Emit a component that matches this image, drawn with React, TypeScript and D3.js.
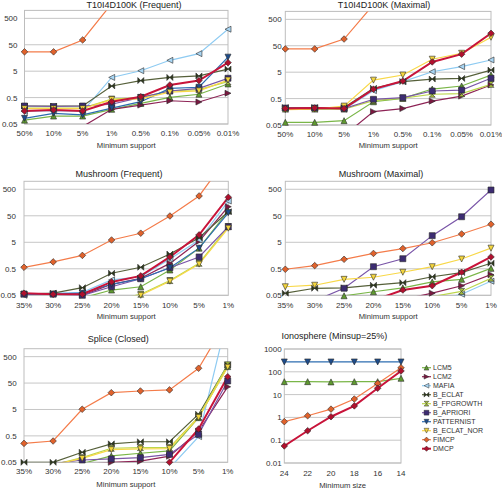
import React from "react";
import * as d3 from "d3";

// x categories
const supportT10 = ["50%", "10%", "5%", "1%", "0.5%", "0.1%", "0.05%", "0.01%"];
const supportPct = ["35%", "30%", "25%", "20%", "15%", "10%", "5%", "1%"];
const minSizes = ["24", "22", "20", "18", "16", "14"];

const runtimeTicks = [0.05, 0.5, 5, 50, 500];
const ionoTicks = [0.01, 0.1, 1, 10, 100, 1000];

type Series = Record<string, (number | null)[]>;

// running times (s), one row per algorithm
const t10Frequent: Series = {
  LCM5: [0.07, 0.1, 0.1, 0.18, 0.3, 0.51, 0.67, 1.64],
  LCM2: [null, null, 0.04, 0.18, 0.26, 0.38, 0.34, 0.73],
  MAFIA: [0.15, 0.16, 0.15, 2.9, 5.2, 12.9, 23, 194],
  B_ECLAT: [0.24, 0.24, 0.24, 1.38, 2.2, 2.9, 3.3, 6.0],
  B_FPGROWTH: [0.2, 0.2, 0.2, 0.44, 0.5, 0.9, 1.0, 2.0],
  B_APRIORI: [0.24, 0.23, 0.24, 0.28, 0.51, 0.89, 1.12, 2.7],
  PATTERNIST: [0.082, 0.127, 0.11, 0.2, 0.35, 1.12, 1.23, 17],
  B_ECLAT_NOR: [0.19, 0.19, 0.19, 0.42, 0.45, 0.8, 0.9, 2.3],
  FIMCP: [27, 27, 76, 1800, null, null, null, null],
  DMCP: [0.155, 0.17, 0.155, 0.35, 0.54, 1.5, 2.2, 10.5],
};

const t10Maximal: Series = {
  LCM5: [0.063, 0.063, 0.073, 0.38, 0.51, 1.15, 1.5, 3.9],
  LCM2: [null, null, 0.02, 0.16, 0.21, 0.4, 0.62, 1.64],
  MAFIA: [0.2, 0.2, 0.2, 1.0, 2.2, 5.2, 8.1, 14.5],
  B_ECLAT: [0.23, 0.23, 0.23, 1.23, 2.2, 2.75, 2.9, 6],
  B_FPGROWTH: [0.2, 0.2, 0.2, 0.42, 0.52, 0.73, 0.77, 1.73],
  B_APRIORI: [0.22, 0.22, 0.21, 0.47, 0.54, 0.97, 1.05, 2.95],
  B_ECLAT_NOR: [0.19, 0.2, 0.26, 2.5, 3.9, 15.5, 26, 105],
  FIMCP: [38, 38, 90, 1800, null, null, null, null],
  DMCP: [0.21, 0.22, 0.21, 1.14, 2.3, 12.2, 24, 148],
};

const mushroomFrequent: Series = {
  LCM5: [null, null, 0.04, 0.079, 0.105, 0.45, 3.0, 76],
  LCM2: [0.045, 0.045, 0.05, 0.13, 0.22, 0.8, 5.5, 110],
  MAFIA: [0.05, 0.06, 0.065, 0.19, 0.25, 1.17, 6.1, 180],
  B_ECLAT: [0.055, 0.06, 0.097, 0.34, 0.57, 1.8, 7.4, 71],
  B_FPGROWTH: [null, null, null, 0.03, 0.055, 0.18, 0.81, 19.5],
  B_APRIORI: [0.055, 0.055, 0.05, 0.105, 0.21, 0.55, 1.4, 19.5],
  PATTERNIST: [0.055, 0.055, 0.06, 0.13, 0.21, 0.55, 3.0, 65],
  B_ECLAT_NOR: [null, null, null, 0.028, 0.05, 0.17, 0.75, 17],
  FIMCP: [0.57, 0.91, 1.6, 6.1, 11, 49, 280, 9000],
  DMCP: [0.06, 0.055, 0.055, 0.16, 0.27, 1.4, 9.5, 250],
};

const mushroomMaximal: Series = {
  LCM5: [null, 0.03, 0.048, 0.068, 0.096, 0.16, 0.2, 0.52],
  LCM2: [null, null, null, null, 0.035, 0.06, 0.115, 0.3],
  MAFIA: [null, null, null, null, null, 0.03, 0.055, 0.17],
  B_ECLAT: [0.06, 0.092, 0.096, 0.12, 0.15, 0.25, 0.36, 0.81],
  B_FPGROWTH: [null, null, null, null, null, 0.045, 0.07, 0.22],
  B_APRIORI: [null, 0.031, 0.092, 0.6, 1.2, 8.9, 46, 470],
  B_ECLAT_NOR: [0.105, 0.12, 0.2, 0.24, 0.37, 0.6, 1.17, 3.0],
  FIMCP: [0.48, 0.66, 1.14, 1.9, 2.9, 4.8, 10.3, 24],
  DMCP: [null, null, null, 0.032, 0.079, 0.115, 0.37, 1.4],
};

const spliceClosed: Series = {
  LCM5: [null, null, 0.045, 0.087, 0.11, 0.135, 2.45, 210],
  LCM2: [null, null, 0.04, 0.05, 0.055, 0.085, 0.75, 36],
  MAFIA: [null, null, null, null, null, 0.03, 0.47, 17000],
  B_ECLAT: [0.05, 0.05, 0.12, 0.25, 0.3, 0.3, 3.3, 245],
  B_FPGROWTH: [0.04, 0.04, 0.075, 0.17, 0.18, 0.18, 2.7, 245],
  B_APRIORI: [0.04, 0.045, 0.061, 0.067, 0.075, 0.1, 0.57, 60],
  B_ECLAT_NOR: [0.04, 0.04, 0.07, 0.15, 0.16, 0.165, 2.5, 200],
  FIMCP: [0.26, 0.32, 5.1, 21.6, 25, 27.5, 182, 12800],
  DMCP: [null, null, null, null, 0.02, 0.05, 0.91, 87],
};

const ionosphere: Series = {
  LCM5: [37, 37, 36, 37, 37, 52],
  PATTERNIST: [270, 270, 270, 270, 270, 270],
  FIMCP: [0.65, 1.18, 2.3, 6.4, 31, 150],
  DMCP: [0.056, 0.26, 1.07, 3.2, 19, 109],
};

const algorithms = [
  "LCM5", "LCM2", "MAFIA", "B_ECLAT", "B_FPGROWTH",
  "B_APRIORI", "PATTERNIST", "B_ECLAT_NOR", "FIMCP", "DMCP",
];

const style: Record<string, { line: string; fill: string; shape: string; width: number }> = {
  LCM5: { line: "#7ab648", fill: "#5f9a30", shape: "triUp", width: 1.2 },
  LCM2: { line: "#8e2456", fill: "#7a1840", shape: "triRight", width: 1.2 },
  MAFIA: { line: "#8ecbf2", fill: "#a9d6f4", shape: "triLeft", width: 1.2 },
  B_ECLAT: { line: "#56603a", fill: "#2e3a1c", shape: "bowtie", width: 1.2 },
  B_FPGROWTH: { line: "#bcd64c", fill: "#a8c23a", shape: "hourglass", width: 1.2 },
  B_APRIORI: { line: "#7a56a8", fill: "#3c2c72", shape: "square", width: 1.2 },
  PATTERNIST: { line: "#2c6cb0", fill: "#1d4c8c", shape: "triDown", width: 1.2 },
  B_ECLAT_NOR: { line: "#f8d848", fill: "#f4d63e", shape: "triDown", width: 1.2 },
  FIMCP: { line: "#f47c4a", fill: "#e0622c", shape: "diamond", width: 1.2 },
  DMCP: { line: "#c8143a", fill: "#b0102e", shape: "diamond", width: 2 },
};

const markerPath = (shape: string, r: number) => {
  switch (shape) {
    case "triUp": return `M0,${-r}L${r},${r}L${-r},${r}Z`;
    case "triDown": return `M0,${r}L${r},${-r}L${-r},${-r}Z`;
    case "triRight": return `M${r},0L${-r},${-r}L${-r},${r}Z`;
    case "triLeft": return `M${-r},0L${r},${-r}L${r},${r}Z`;
    case "bowtie": return `M${-r},${-r}L0,0L${-r},${r}ZM${r},${-r}L0,0L${r},${r}Z`;
    case "hourglass": return `M${-r},${-r}L${r},${-r}L0,0ZM${-r},${r}L${r},${r}L0,0Z`;
    case "square": return `M${-r},${-r}H${r}V${r}H${-r}Z`;
    default: return `M0,${-r * 1.1}L${r * 1.1},0L0,${r * 1.1}L${-r * 1.1},0Z`;
  }
};

type PanelProps = {
  id: string;
  title: string;
  xTitle: string;
  cats: string[];
  data: Series;
  left: number;
  right: number;
  range: [number, number];
  domain: [number, number];
  ticks: number[];
  titleX: number;
  titleY: number;
  tickY: number;
  xTitleY: number;
  labelGap: number;
};

const font = "'Liberation Sans', Arial, sans-serif";

const Panel = (p: PanelProps) => {
  const x = d3.scalePoint<string>().domain(p.cats).range([p.left, p.right]);
  const y = d3.scaleLog().domain(p.domain).range(p.range);
  const [bottom, top] = p.range;
  const line = d3
    .line<[string, number | null]>()
    .defined((d) => d[1] != null)
    .x((d) => x(d[0]) as number)
    .y((d) => y(d[1] as number));
  const names = algorithms.filter((a) => p.data[a]);

  return (
    <g>
      <defs>
        <clipPath id={p.id}>
          <rect x={p.left} y={top} width={p.right - p.left} height={bottom - top} />
        </clipPath>
      </defs>
      {p.ticks.map((t) => (
        <g key={t}>
          <line x1={p.left} x2={p.right} y1={y(t)} y2={y(t)} stroke="#c6c6c6" strokeWidth={1} />
          <text x={p.left - p.labelGap} y={y(t) + 3} textAnchor="end" fontSize={8} fill="#333">
            {String(t)}
          </text>
        </g>
      ))}
      <rect x={p.left} y={top} width={p.right - p.left} height={bottom - top} fill="none" stroke="#bdbdbd" />
      {p.cats.map((c) => (
        <text key={c} x={x(c)} y={p.tickY} textAnchor="middle" fontSize={8} fill="#333">
          {c}
        </text>
      ))}
      <text x={p.titleX} y={p.titleY} textAnchor="middle" fontSize={9} fill="#222">
        {p.title}
      </text>
      <text x={(p.left + p.right) / 2} y={p.xTitleY} textAnchor="middle" fontSize={7.7} fill="#333">
        {p.xTitle}
      </text>
      <g clipPath={`url(#${p.id})`}>
        {names.map((a) => (
          <path
            key={a}
            d={line(p.cats.map((c, i) => [c, p.data[a][i]])) || ""}
            fill="none"
            stroke={style[a].line}
            strokeWidth={style[a].width}
          />
        ))}
      </g>
      {names.map((a) => (
        <g key={a}>
          {p.cats.map((c, i) => {
            const v = p.data[a][i];
            if (v == null || v < p.domain[0] * 0.95 || v > p.domain[1]) return null;
            return (
              <path
                key={c}
                transform={`translate(${x(c)},${y(v)})`}
                d={markerPath(style[a].shape, 3)}
                fill={style[a].fill}
                stroke="#2a2a2a"
                strokeWidth={0.6}
              />
            );
          })}
        </g>
      ))}
    </g>
  );
};

const Legend = () => (
  <g>
    {algorithms.map((a, i) => {
      const cy = 367.7 + i * 9;
      return (
        <g key={a}>
          <line x1={422} x2={431} y1={cy} y2={cy} stroke={style[a].line} strokeWidth={style[a].width} />
          <path
            transform={`translate(426.5,${cy})`}
            d={markerPath(style[a].shape, 2.4)}
            fill={style[a].fill}
            stroke="#2a2a2a"
            strokeWidth={0.5}
          />
          <text x={433} y={cy + 2.5} fontSize={7} fill="#333">
            {a}
          </text>
        </g>
      );
    })}
  </g>
);

export default function App() {
  return (
    <svg
      width={502}
      height={494}
      style={{ position: "absolute", left: 0, top: 0, background: "#fff" }}
      fontFamily={font}
    >
      <Panel
        id="c1" title="T10I4D100K (Frequent)" xTitle="Minimum support" cats={supportT10} data={t10Frequent}
        left={24.5} right={228} range={[124, 10.4]} domain={[0.05, 1000]} ticks={runtimeTicks}
        titleX={134} titleY={8} tickY={136} xTitleY={147.5} labelGap={7}
      />
      <Panel
        id="c2" title="T10I4D100K (Maximal)" xTitle="Minimum support" cats={supportT10} data={t10Maximal}
        left={285.3} right={491} range={[125, 11.4]} domain={[0.05, 1000]} ticks={runtimeTicks}
        titleX={384} titleY={8} tickY={137} xTitleY={148} labelGap={3.6}
      />
      <Panel
        id="c3" title="Mushroom (Frequent)" xTitle="Minimum support" cats={supportPct} data={mushroomFrequent}
        left={24} right={228.3} range={[295.3, 181.3]} domain={[0.05, 1000]} ticks={runtimeTicks}
        titleX={119} titleY={176.5} tickY={308} xTitleY={319.3} labelGap={8}
      />
      <Panel
        id="c4" title="Mushroom (Maximal)" xTitle="Minimum support" cats={supportPct} data={mushroomMaximal}
        left={285.3} right={491} range={[295.3, 181.3]} domain={[0.05, 1000]} ticks={runtimeTicks}
        titleX={381} titleY={176.5} tickY={308} xTitleY={319.3} labelGap={3.6}
      />
      <Panel
        id="c5" title="Splice (Closed)" xTitle="Minimum support" cats={supportPct} data={spliceClosed}
        left={24} right={227.7} range={[462.3, 348.7]} domain={[0.05, 1000]} ticks={runtimeTicks}
        titleX={118.3} titleY={342} tickY={474.3} xTitleY={486.5} labelGap={7.3}
      />
      <Panel
        id="c6" title="Ionosphere (Minsup=25%)" xTitle="Minimum size" cats={minSizes} data={ionosphere}
        left={284.3} right={401} range={[463, 349]} domain={[0.01, 1000]} ticks={ionoTicks}
        titleX={334.3} titleY={339} tickY={475.7} xTitleY={488.3} labelGap={2.6}
      />
      <Legend />
    </svg>
  );
}
